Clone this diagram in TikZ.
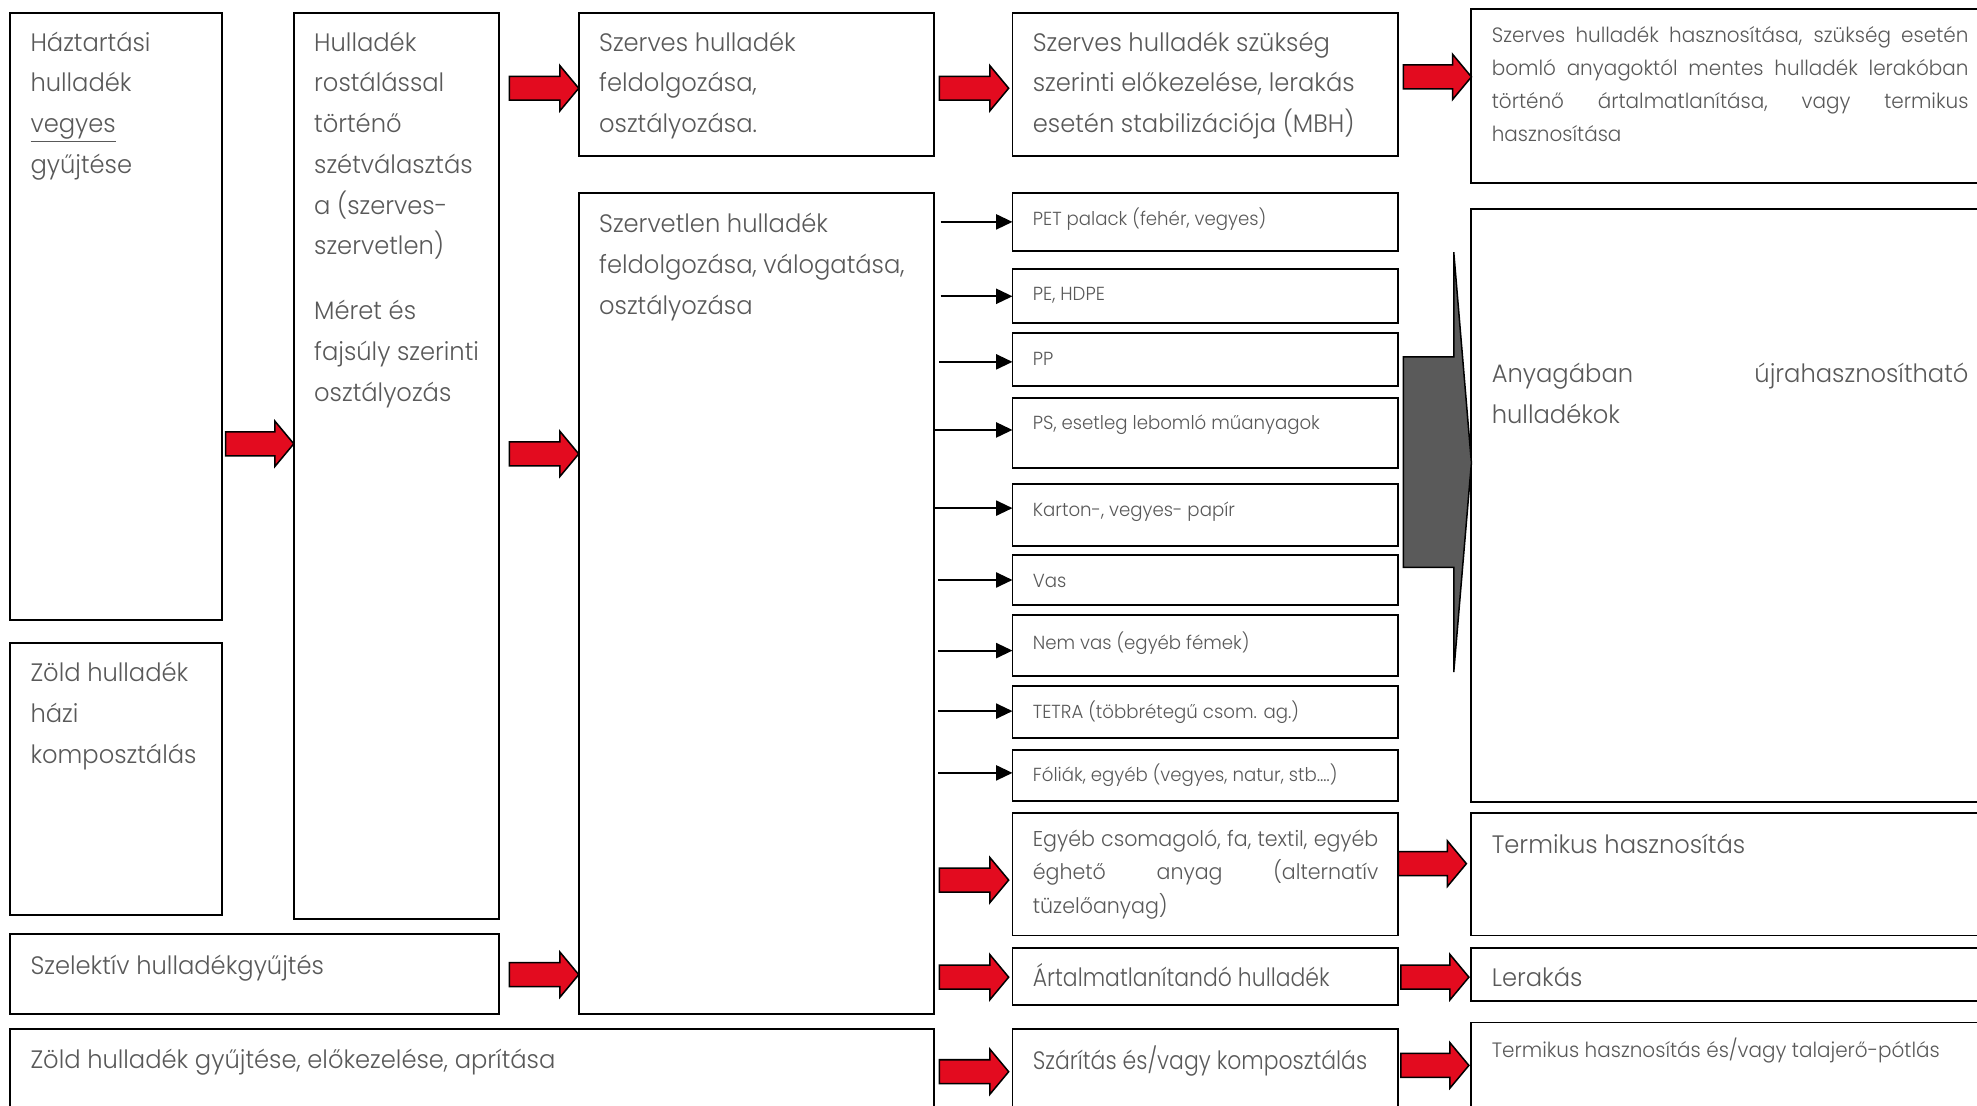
\documentclass[tikz,border=0pt]{standalone}
\usepackage{fontspec}
\IfFontExistsTF{Poppins Light}{%
  \setmainfont{Poppins Light}[FakeStretch=0.96]\newfontfamily\narrowf{Poppins Light}[FakeStretch=0.87]}{%
  \setmainfont{Poppins}[FakeStretch=0.96]\newfontfamily\narrowf{Poppins}[FakeStretch=0.87]}
\usetikzlibrary{calc,arrows.meta}
\definecolor{txtc}{HTML}{595959}
\definecolor{rd}{HTML}{E30B1F}
\definecolor{grc}{HTML}{5A5A5A}
\tikzset{
  bx/.style={draw=black, line width=1.5pt, fill=white, anchor=north west, inner sep=0pt, outer sep=0pt},
  big/.style={anchor=north west, inner sep=0pt, text=txtc, align=left, font=\fontsize{20}{32.3}\selectfont},
  mid/.style={anchor=north west, inner sep=0pt, text=txtc, align=left, font=\fontsize{16.5}{26.3}\selectfont},
  sml/.style={anchor=north west, inner sep=0pt, text=txtc, align=left, font=\fontsize{15}{20}\selectfont},
  redarr/.style={fill=rd, draw=black, line width=1.2pt, line join=miter},
  grarr/.style={fill=grc, draw=black, line width=1.2pt, line join=miter},
  blk/.style={draw=black, line width=1.5pt, -{Triangle[length=13pt,width=12pt]}}
}
\newcommand\redarrow[3]{%
  \draw[redarr] let \p1=#1, \p2=#2, \p3=(0,#3) in
  (\x1,\y3+9.5pt) -- (\x2-15pt,\y3+9.5pt) -- (\x2-15pt,\y3+18pt) -- (\x2,\y3)
  -- (\x2-15pt,\y3-18pt) -- (\x2-15pt,\y3-9.5pt) -- (\x1,\y3-9.5pt) -- cycle;}
\begin{document}
\begin{tikzpicture}[x=1pt,y=-1pt]
\useasboundingbox (0,0) rectangle (1568,877);
\clip (0,0) rectangle (1568,877);
\fill[white] (0,0) rectangle (1568,877);
% boxes
\node[bx, minimum width=168pt, minimum height=482pt] (A) at (8,10) {};
\node[bx, minimum width=168pt, minimum height=216pt] (B) at (8,510) {};
\node[bx, minimum width=163pt, minimum height=719pt] (C) at (233,10) {};
\node[bx, minimum width=388pt, minimum height=63pt] (D) at (8,741) {};
\node[bx, minimum width=733pt, minimum height=100pt] (E) at (8,816) {};
\node[bx, minimum width=282pt, minimum height=114pt] (F) at (459,10) {};
\node[bx, minimum width=282pt, minimum height=651pt] (G) at (459,153) {};
\node[bx, minimum width=306pt, minimum height=114pt] (H) at (803,10) {};
\node[bx, minimum width=450pt, minimum height=138pt] (I) at (1167,7) {};
\node[bx, minimum width=306pt, minimum height=46pt] (pet) at (803,153) {};
\node[bx, minimum width=306pt, minimum height=43pt] (pe) at (803,213) {};
\node[bx, minimum width=306pt, minimum height=42pt] (pp) at (803,264) {};
\node[bx, minimum width=306pt, minimum height=55pt] (ps) at (803,316) {};
\node[bx, minimum width=306pt, minimum height=49pt] (karton) at (803,384) {};
\node[bx, minimum width=306pt, minimum height=40pt] (vas) at (803,440) {};
\node[bx, minimum width=306pt, minimum height=48pt] (nemvas) at (803,488) {};
\node[bx, minimum width=306pt, minimum height=41pt] (tetra) at (803,544) {};
\node[bx, minimum width=306pt, minimum height=40pt] (folia) at (803,595) {};
\node[bx, minimum width=306pt, minimum height=97pt] (egyeb) at (803,645) {};
\node[bx, minimum width=306pt, minimum height=45pt] (artalm) at (803,752) {};
\node[bx, minimum width=306pt, minimum height=100pt] (szar) at (803,816) {};
\node[bx, minimum width=450pt, minimum height=470pt] (anyag) at (1167,166) {};
\node[bx, minimum width=450pt, minimum height=97pt] (term) at (1167,645) {};
\node[bx, minimum width=450pt, minimum height=42pt] (lerak) at (1167,752) {};
\node[bx, minimum width=450pt, minimum height=100pt] (term2) at (1167,811) {};
% texts
\node[big] (tA) at ($(A.north west)+(16,15)$) {Háztartási\\hulladék\\\underline{vegyes}\\gyűjtése};
\node[big] (tB) at ($(B.north west)+(16,15)$) {Zöld hulladék\\házi\\komposztálás};
\node[big] (tC) at ($(C.north west)+(16,15)$) {Hulladék\\rostálással\\történő\\szétválasztás\\a (szerves-\\szervetlen)};
\node[big] (tC2) at ($(C.north west)+(16,228)$) {Méret és\\fajsúly szerinti\\osztályozás};
\node[big] (tF) at ($(F.north west)+(16,15)$) {Szerves hulladék\\feldolgozása,\\osztályozása.};
\node[big] (tG) at ($(G.north west)+(16,16)$) {Szervetlen hulladék\\feldolgozása, válogatása,\\osztályozása};
\node[big] (tH) at ($(H.north west)+(16,15)$) {Szerves hulladék szükség\\szerinti előkezelése, lerakás\\esetén stabilizációja (MBH)};
\node[mid] (tI) at ($(I.north west)+(16,13.5)$) {\makebox[378pt][s]{Szerves hulladék hasznosítása, szükség esetén}\\\makebox[378pt][s]{bomló anyagoktól mentes hulladék lerakóban}\\\makebox[378pt]{történő\hfill ártalmatlanítása,\hfill vagy\hfill termikus}\\hasznosítása};
\node[big] (tAny) at ($(anyag.north west)+(16,122)$) {\makebox[378pt]{Anyagában\hfill újrahasznosítható}\\hulladékok};
\node[big] (tTerm) at ($(term.north west)+(16,16)$) {Termikus hasznosítás};
\node[big] (tLer) at ($(lerak.north west)+(16,15)$) {Lerakás};
\node[mid] (tTerm2) at ($(term2.north west)+(16,12)$) {Termikus hasznosítás és/vagy talajerő-pótlás};
\node[big] (tD) at ($(D.north west)+(16,16)$) {Szelektív hulladékgyűjtés};
\node[big] (tE) at ($(E.north west)+(16,16)$) {Zöld hulladék gyűjtése, előkezelése, aprítása};
\node[sml] (tpet) at ($(pet.north west)+(16,12)$) {PET palack (fehér, vegyes)};
\node[sml] (tpe) at ($(pe.north west)+(16,15)$) {PE, HDPE};
\node[sml] (tpp) at ($(pp.north west)+(16,15)$) {PP};
\node[sml] (tps) at ($(ps.north west)+(16,13)$) {PS, esetleg lebomló műanyagok};
\node[sml] (tkarton) at ($(karton.north west)+(16,14)$) {Karton-, vegyes- papír};
\node[sml] (tvas) at ($(vas.north west)+(16,15)$) {Vas};
\node[sml] (tnemvas) at ($(nemvas.north west)+(16,13)$) {Nem vas (egyéb fémek)};
\node[sml] (ttetra) at ($(tetra.north west)+(16,12)$) {TETRA (többrétegű csom. ag.)};
\node[sml] (tfolia) at ($(folia.north west)+(16,11)$) {Fóliák, egyéb (vegyes, natur, stb.…)};
\node[anchor=north west, inner sep=0pt, text=txtc, align=left, font=\fontsize{17}{26.5}\selectfont] (tegyeb) at ($(egyeb.north west)+(16,13)$) {\makebox[274pt][s]{Egyéb csomagoló, fa, textil, egyéb}\\\makebox[274pt]{éghető\hfill anyag\hfill (alternatív}\\tüzelőanyag)};
\node[big, font=\narrowf\fontsize{20}{32.3}\selectfont] (tart) at ($(artalm.north west)+(16,12)$) {Ártalmatlanítandó hulladék};
\node[big, font=\narrowf\fontsize{20}{32.3}\selectfont] (tszar) at ($(szar.north west)+(16,13)$) {Szárítás és/vagy komposztálás};
% red block arrows
\redarrow{([xshift=3pt]A.east)}{(C.west)}{352}
\redarrow{([xshift=8pt]C.east)}{(F.west)}{70}
\redarrow{([xshift=8pt]C.east)}{(G.west)}{360}
\redarrow{([xshift=8pt]D.east)}{(G.west)}{773}
\redarrow{([xshift=4pt]F.east)}{([xshift=-3pt]H.west)}{70}
\redarrow{([xshift=4pt]H.east)}{(I.west)}{61}
\redarrow{([xshift=4pt]G.east)}{([xshift=-3pt]egyeb.west)}{698}
\redarrow{([xshift=4pt]G.east)}{([xshift=-3pt]artalm.west)}{775}
\redarrow{([xshift=4pt]E.east)}{([xshift=-3pt]szar.west)}{850}
\redarrow{(egyeb.east)}{([xshift=-4pt]term.west)}{685}
\redarrow{([xshift=2pt]artalm.east)}{([xshift=-2pt]lerak.west)}{775}
\redarrow{([xshift=2pt]szar.east)}{([xshift=-2pt]term2.west)}{845}
% grey collecting arrow
\draw[grarr] (1113,283) -- (1153,283) -- (1153,200) -- (anyag.west |- 0,367) -- (1153,533) -- (1153,450) -- (1113,450) -- cycle;
% black arrows
\draw[blk] ([xshift=5pt]G.east |- 0,176) -- (pet.west |- 0,176);
\draw[blk] ([xshift=5pt]G.east |- 0,235) -- (pe.west |- 0,235);
\draw[blk] ([xshift=4pt]G.east |- 0,287) -- (pp.west |- 0,287);
\draw[blk] (G.east |- 0,341) -- (ps.west |- 0,341);
\draw[blk] (G.east |- 0,403) -- (karton.west |- 0,403);
\draw[blk] ([xshift=3pt]G.east |- 0,460) -- (vas.west |- 0,460);
\draw[blk] ([xshift=3pt]G.east |- 0,516) -- (nemvas.west |- 0,516);
\draw[blk] ([xshift=3pt]G.east |- 0,564) -- (tetra.west |- 0,564);
\draw[blk] ([xshift=3pt]G.east |- 0,613) -- (folia.west |- 0,613);
\end{tikzpicture}
\end{document}
